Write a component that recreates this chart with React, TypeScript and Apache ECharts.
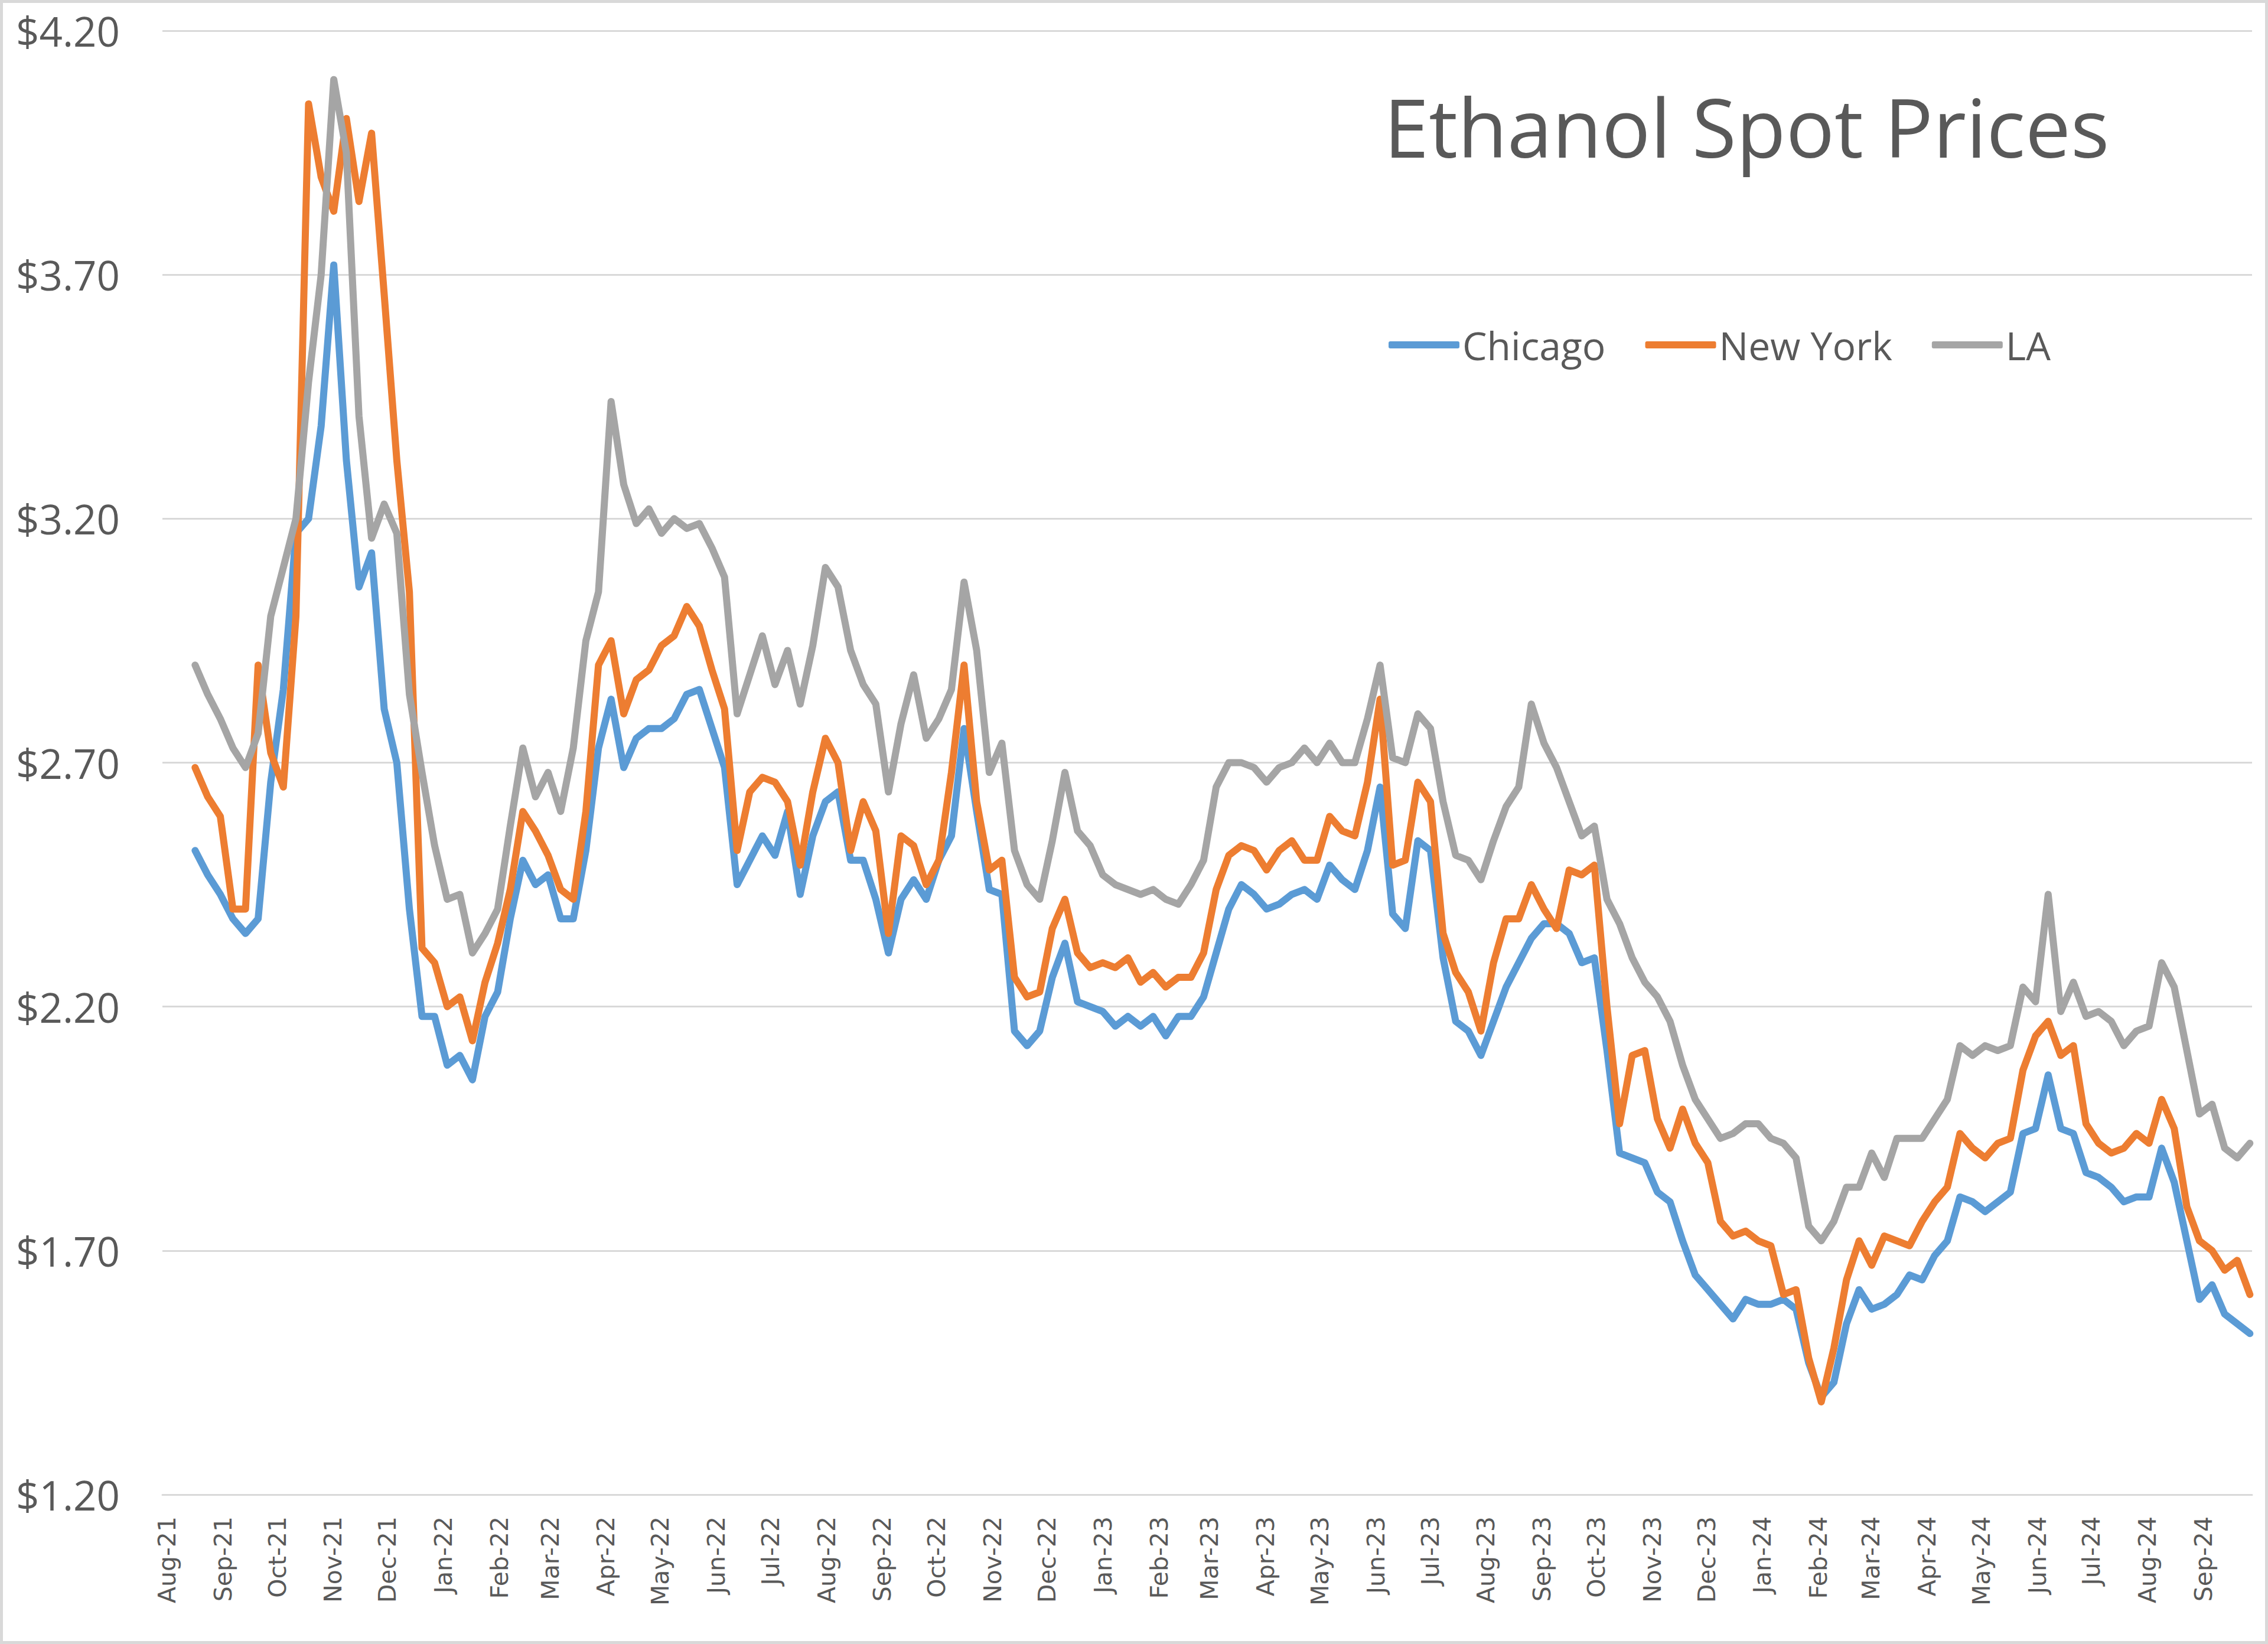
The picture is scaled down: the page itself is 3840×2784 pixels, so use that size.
import React, { useEffect, useRef } from 'react';
import * as echarts from 'echarts';

const TITLE = 'Ethanol Spot Prices';
const SERIES_NAMES = ['Chicago', 'New York', 'LA'];
const COLORS = ['#5B9BD5', '#ED7D31', '#A5A5A5'];
const MONTH_LABELS = [
  'Aug-21', 'Sep-21', 'Oct-21', 'Nov-21', 'Dec-21',
  'Jan-22', 'Feb-22', 'Mar-22', 'Apr-22', 'May-22', 'Jun-22', 'Jul-22', 'Aug-22', 'Sep-22', 'Oct-22', 'Nov-22', 'Dec-22',
  'Jan-23', 'Feb-23', 'Mar-23', 'Apr-23', 'May-23', 'Jun-23', 'Jul-23', 'Aug-23', 'Sep-23', 'Oct-23', 'Nov-23', 'Dec-23',
  'Jan-24', 'Feb-24', 'Mar-24', 'Apr-24', 'May-24', 'Jun-24', 'Jul-24', 'Aug-24', 'Sep-24',
];
const Y_MIN = 1.2;
const Y_MAX = 4.2;
const Y_STEP = 0.5;

// weekly samples, first one mid-August 2021
const FIRST_SAMPLE = [2021, 7, 16, 12];
const SAMPLE_STEP_DAYS = 6.976;

const CHICAGO = [
  2.52, 2.47, 2.43, 2.38, 2.35, 2.38, 2.66, 2.85, 3.17, 3.20, 3.39, 3.72, 3.32, 3.06, 3.13, 2.81, 2.70, 2.40, 2.18, 2.18, 2.08,
  2.10, 2.05, 2.18, 2.23, 2.38, 2.50, 2.45, 2.47, 2.38, 2.38, 2.52, 2.73, 2.83, 2.69, 2.75, 2.77, 2.77, 2.79, 2.84, 2.85, 2.77,
  2.69, 2.45, 2.50, 2.55, 2.51, 2.60, 2.43, 2.55, 2.62, 2.64, 2.50, 2.50, 2.42, 2.31, 2.42, 2.46, 2.42, 2.50, 2.55, 2.77, 2.60, 2.44,
  2.43, 2.15, 2.12, 2.15, 2.26, 2.33, 2.21, 2.20, 2.19, 2.16, 2.18, 2.16, 2.18, 2.14, 2.18, 2.18, 2.22, 2.31, 2.40, 2.45, 2.43,
  2.40, 2.41, 2.43, 2.44, 2.42, 2.49, 2.46, 2.44, 2.52, 2.65, 2.39, 2.36, 2.54, 2.52, 2.30, 2.17, 2.15, 2.10, 2.17, 2.24, 2.29, 2.34,
  2.37, 2.37, 2.35, 2.29, 2.30, 2.11, 1.90, 1.89, 1.88, 1.82, 1.80, 1.72, 1.65, 1.62, 1.59, 1.56, 1.60, 1.59, 1.59, 1.60, 1.58,
  1.47, 1.40, 1.43, 1.55, 1.62, 1.58, 1.59, 1.61, 1.65, 1.64, 1.69, 1.72, 1.81, 1.80, 1.78, 1.80, 1.82, 1.94, 1.95, 2.06, 1.95, 1.94,
  1.86, 1.85, 1.83, 1.80, 1.81, 1.81, 1.91, 1.84, 1.72, 1.60, 1.63, 1.57, 1.55, 1.53,
];

const NEW_YORK = [
  2.69, 2.63, 2.59, 2.40, 2.40, 2.90, 2.72, 2.65, 3.00, 4.05, 3.90, 3.83, 4.02, 3.85, 3.99, 3.66, 3.32, 3.05, 2.32, 2.29, 2.20,
  2.22, 2.13, 2.25, 2.33, 2.44, 2.60, 2.56, 2.51, 2.44, 2.42, 2.60, 2.90, 2.95, 2.80, 2.87, 2.89, 2.94, 2.96, 3.02, 2.98, 2.89,
  2.81, 2.52, 2.64, 2.67, 2.66, 2.62, 2.49, 2.64, 2.75, 2.70, 2.52, 2.62, 2.56, 2.35, 2.55, 2.53, 2.45, 2.50, 2.68, 2.90, 2.62, 2.48,
  2.50, 2.26, 2.22, 2.23, 2.36, 2.42, 2.31, 2.28, 2.29, 2.28, 2.30, 2.25, 2.27, 2.24, 2.26, 2.26, 2.31, 2.44, 2.51, 2.53, 2.52,
  2.48, 2.52, 2.54, 2.50, 2.50, 2.59, 2.56, 2.55, 2.66, 2.83, 2.49, 2.50, 2.66, 2.62, 2.35, 2.27, 2.23, 2.15, 2.29, 2.38, 2.38, 2.45,
  2.40, 2.36, 2.48, 2.47, 2.49, 2.20, 1.96, 2.10, 2.11, 1.97, 1.91, 1.99, 1.92, 1.88, 1.76, 1.73, 1.74, 1.72, 1.71, 1.61, 1.62,
  1.48, 1.39, 1.50, 1.64, 1.72, 1.67, 1.73, 1.72, 1.71, 1.76, 1.80, 1.83, 1.94, 1.91, 1.89, 1.92, 1.93, 2.07, 2.14, 2.17, 2.10, 2.12,
  1.96, 1.92, 1.90, 1.91, 1.94, 1.92, 2.01, 1.95, 1.79, 1.72, 1.70, 1.66, 1.68, 1.61,
];

const LA = [
  2.90, 2.84, 2.79, 2.73, 2.69, 2.76, 3.00, 3.10, 3.20, 3.48, 3.70, 4.10, 3.95, 3.41, 3.16, 3.23, 3.17, 2.84, 2.68, 2.53, 2.42,
  2.43, 2.31, 2.35, 2.40, 2.57, 2.73, 2.63, 2.68, 2.60, 2.73, 2.95, 3.05, 3.44, 3.27, 3.19, 3.22, 3.17, 3.20, 3.18, 3.19, 3.14,
  3.08, 2.80, 2.88, 2.96, 2.86, 2.93, 2.82, 2.94, 3.10, 3.06, 2.93, 2.86, 2.82, 2.64, 2.78, 2.88, 2.75, 2.79, 2.85, 3.07, 2.93, 2.68,
  2.74, 2.52, 2.45, 2.42, 2.54, 2.68, 2.56, 2.53, 2.47, 2.45, 2.44, 2.43, 2.44, 2.42, 2.41, 2.45, 2.50, 2.65, 2.70, 2.70, 2.69,
  2.66, 2.69, 2.70, 2.73, 2.70, 2.74, 2.70, 2.70, 2.79, 2.90, 2.71, 2.70, 2.80, 2.77, 2.62, 2.51, 2.50, 2.46, 2.54, 2.61, 2.65, 2.82,
  2.74, 2.69, 2.62, 2.55, 2.57, 2.42, 2.37, 2.30, 2.25, 2.22, 2.17, 2.08, 2.01, 1.97, 1.93, 1.94, 1.96, 1.96, 1.93, 1.92, 1.89,
  1.75, 1.72, 1.76, 1.83, 1.83, 1.90, 1.85, 1.93, 1.93, 1.93, 1.97, 2.01, 2.12, 2.10, 2.12, 2.11, 2.12, 2.24, 2.21, 2.43, 2.19, 2.25,
  2.18, 2.19, 2.17, 2.12, 2.15, 2.16, 2.29, 2.24, 2.11, 1.98, 2.00, 1.91, 1.89, 1.92,
];

const MONTH_ABBR = ['Jan', 'Feb', 'Mar', 'Apr', 'May', 'Jun', 'Jul', 'Aug', 'Sep', 'Oct', 'Nov', 'Dec'];

function labelToTime(label: string): number {
  const [m, y] = label.split('-');
  return new Date(2000 + Number(y), MONTH_ABBR.indexOf(m), 1).getTime();
}

function sampleTimes(n: number): number[] {
  const start = new Date(FIRST_SAMPLE[0], FIRST_SAMPLE[1], FIRST_SAMPLE[2], FIRST_SAMPLE[3]).getTime();
  const out: number[] = [];
  for (let i = 0; i < n; i++) out.push(start + i * SAMPLE_STEP_DAYS * 86400000);
  return out;
}

const W = 3840;
const H = 2784;
const TEXT_COLOR = '#595959';
const GRID_COLOR = '#D9D9D9';
const SANS = '"Open Sans", "Noto Sans", sans-serif';

export default function App() {
  const ref = useRef<HTMLDivElement>(null);

  useEffect(() => {
    document.body.style.margin = '0';
    if (!ref.current) return;
    const chart = echarts.init(ref.current, null, { renderer: 'svg', width: W, height: H });
    const allSeries = [CHICAGO, NEW_YORK, LA];
    const times = sampleTimes(CHICAGO.length);
    const tickTimes = MONTH_LABELS.map(labelToTime);
    const labelByTime = new Map<number, string>();
    tickTimes.forEach((t, i) => labelByTime.set(t, MONTH_LABELS[i]));

    chart.setOption({
      animation: false,
      backgroundColor: '#FFFFFF',
      color: COLORS,
      grid: { left: 275, right: 27, top: 52, bottom: 253, containLabel: false },
      legend: {
        data: SERIES_NAMES,
        left: 2346,
        top: 546,
        icon: 'roundRect',
        itemWidth: 120,
        itemHeight: 12,
        itemGap: 67,
        textStyle: { color: TEXT_COLOR, fontSize: 66, fontFamily: SANS },
      },
      xAxis: {
        type: 'value',
        min: new Date(2021, 6, 29, 10).getTime(),
        max: new Date(2024, 8, 27, 19).getTime(),
        axisLine: { show: true, lineStyle: { color: GRID_COLOR, width: 3 } },
        axisTick: { show: false, customValues: tickTimes },
        splitLine: { show: false },
        axisLabel: {
          customValues: tickTimes,
          rotate: 90,
          margin: 37,
          color: TEXT_COLOR,
          fontSize: 41,
          fontFamily: '"DejaVu Sans", sans-serif',
          hideOverlap: false,
          formatter: (v: number) => {
            const hit = labelByTime.get(v);
            if (hit) return hit;
            let best = MONTH_LABELS[0];
            let bd = Infinity;
            tickTimes.forEach((t, i) => {
              const d = Math.abs(t - v);
              if (d < bd) { bd = d; best = MONTH_LABELS[i]; }
            });
            return best;
          },
        },
      },
      yAxis: {
        type: 'value',
        min: Y_MIN,
        max: Y_MAX,
        interval: Y_STEP,
        axisLine: { show: false },
        axisTick: { show: false },
        splitLine: { show: true, lineStyle: { color: GRID_COLOR, width: 3 } },
        axisLabel: {
          margin: 72,
          color: TEXT_COLOR,
          fontSize: 69,
          fontFamily: SANS,
          formatter: (v: number) => '$' + v.toFixed(2),
        },
      },
      graphic: [
        {
          type: 'rect',
          shape: { x: 2.5, y: 2.5, width: W - 5, height: H - 5 },
          style: { fill: 'none', stroke: GRID_COLOR, lineWidth: 5 },
          silent: true,
        },
        {
          type: 'text',
          x: 2343,
          y: 214,
          style: {
            text: TITLE,
            fill: TEXT_COLOR,
            fontSize: 137,
            fontFamily: SANS,
            textAlign: 'left',
            textVerticalAlign: 'middle',
          },
        },
      ],
      series: SERIES_NAMES.map((name, i) => ({
        name,
        type: 'line',
        showSymbol: false,
        symbol: 'none',
        data: allSeries[i].map((v, k) => [times[k], v]),
        lineStyle: { width: 12, color: COLORS[i], cap: 'round', join: 'round' },
        itemStyle: { color: COLORS[i] },
        z: 2 + i,
      })),
    });

    return () => chart.dispose();
  }, []);

  return <div ref={ref} style={{ position: 'absolute', left: 0, top: 0, width: W, height: H }} />;
}
